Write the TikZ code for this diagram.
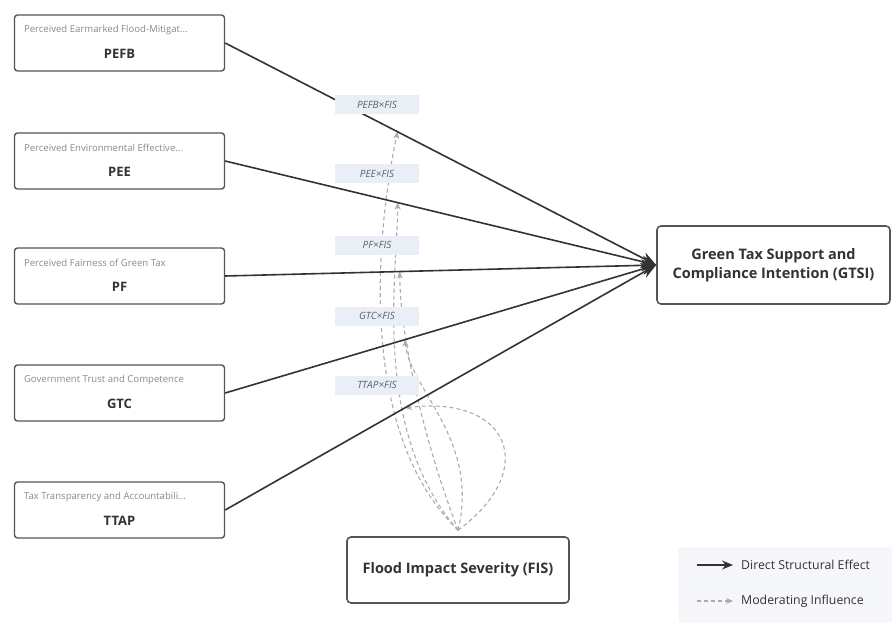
\documentclass[tikz,border=0pt]{standalone}
\usepackage{fontspec}
\setmainfont{Open Sans}
\usetikzlibrary{arrows.meta,calc}
\definecolor{edgec}{HTML}{333333}
\definecolor{boxc}{HTML}{555555}
\definecolor{subc}{HTML}{8A8A8A}
\definecolor{dashc}{HTML}{ABABAB}
\definecolor{labfill}{HTML}{EAEFF5}
\definecolor{labtext}{HTML}{5A6270}
\definecolor{legfill}{HTML}{F5F7FA}
\tikzset{
  srcbox/.style={draw=boxc,line width=1.4pt,rounded corners=3pt,fill=white,minimum width=210pt,minimum height=56pt,inner sep=0pt},
  bigbox/.style={draw=boxc,line width=1.6pt,rounded corners=4pt,fill=white,inner sep=0pt,align=center,font=\bfseries\fontsize{14.5}{19}\selectfont,text=edgec},
  subtxt/.style={anchor=west,font=\fontsize{9.6}{11}\selectfont,text=subc,inner sep=0pt},
  abbr/.style={font=\bfseries\fontsize{13}{15}\selectfont,text=edgec,inner sep=0pt},
  direct/.style={draw=edgec,line width=1.6pt,-{Stealth[length=15pt,width=12pt]}},
  moder/.style={draw=dashc,line width=1.1pt,dash pattern=on 4pt off 3pt,-{Stealth[length=7pt,width=6pt]}},
  intlab/.style={fill=labfill,minimum width=84pt,minimum height=19pt,inner sep=0pt,font=\itshape\fontsize{10}{12}\selectfont,text=labtext},
  legtxt/.style={anchor=west,font=\fontsize{12.3}{14}\selectfont,text=edgec,inner sep=0pt}
}
\begin{document}
\begin{tikzpicture}[x=1pt,y=-1pt]
\useasboundingbox (0,0) rectangle (892,623);
\fill[white] (0,0) rectangle (892,623);

% source boxes
\node[srcbox] (pefb) at (119.5,43) {};
\node[srcbox] (pee)  at (119.5,161) {};
\node[srcbox] (pf)   at (119.5,276) {};
\node[srcbox] (gtc)  at (119.5,393) {};
\node[srcbox] (ttap) at (119.5,510) {};

\node[subtxt] (pefbs) at ($(pefb.north west)+(10,16)$) {Perceived Earmarked Flood-Mitigat...};
\node[abbr]   (pefbl) at ($(pefb.north)+(0,40)$) {PEFB};
\node[subtxt] (pees)  at ($(pee.north west)+(10,16)$) {Perceived Environmental Effective...};
\node[abbr]   (peel)  at ($(pee.north)+(0,40)$) {PEE};
\node[subtxt] (pfs)   at ($(pf.north west)+(10,16)$) {Perceived Fairness of Green Tax};
\node[abbr]   (pfl)   at ($(pf.north)+(0,40)$) {PF};
\node[subtxt] (gtcs)  at ($(gtc.north west)+(10,16)$) {Government Trust and Competence};
\node[abbr]   (gtcl)  at ($(gtc.north)+(0,40)$) {GTC};
\node[subtxt] (ttaps) at ($(ttap.north west)+(10,16)$) {Tax Transparency and Accountabili...};
\node[abbr]   (ttapl) at ($(ttap.north)+(0,40)$) {TTAP};

% target and moderator
\node[bigbox,minimum width=233pt,minimum height=78pt] (gtsi) at (773.5,265) {Green Tax Support and\\Compliance Intention (GTSI)};
\node[bigbox,minimum width=222pt,minimum height=66pt] (fis) at (458,570) {Flood Impact Severity (FIS)};

% points on direct paths where moderation lands
\path (pefb.east) -- (gtsi.west) coordinate[pos=0.40] (m1);
\path (pee.east)  -- (gtsi.west) coordinate[pos=0.40] (m2);
\path (pf.east)   -- (gtsi.west) coordinate[pos=0.405] (m3);
\path (gtc.east)  -- (gtsi.west) coordinate[pos=0.417] (m4);
\path (ttap.east) -- (gtsi.west) coordinate[pos=0.417] (m5);
\coordinate (fist) at ($(fis.north)+(0,-6)$);

% moderating curves
\draw[moder] (fist) .. controls (345,420) and (385,190) .. (m1);
\draw[moder] (fist) .. controls (370,430) and (398,270) .. (m2);
\draw[moder] (fist) .. controls (420,430) and (400,330) .. (m3);
\draw[moder] (fist) .. controls (480,440) and (410,390) .. (m4);
\draw[moder] (fist) .. controls (540,470) and (510,395) .. (m5);

% direct effects
\draw[direct] (pefb.east) -- (gtsi.west);
\draw[direct] (pee.east)  -- (gtsi.west);
\draw[direct] (pf.east)   -- (gtsi.west);
\draw[direct] (gtc.east)  -- (gtsi.west);
\draw[direct] (ttap.east) -- (gtsi.west);

% interaction labels
\node[intlab] (i1) at (377,105) {PEFB×FIS};
\node[intlab] (i2) at (377,174) {PEE×FIS};
\node[intlab] (i3) at (377,245) {PF×FIS};
\node[intlab] (i4) at (377,316) {GTC×FIS};
\node[intlab] (i5) at (377,385) {TTAP×FIS};

% legend
\path[fill=legfill,draw=legfill!60!gray!30,rounded corners=3pt] (679,548) rectangle (898,622);
\coordinate (l1a) at (697,565);
\coordinate (l1b) at (733,565);
\coordinate (l2a) at (697,601);
\coordinate (l2b) at (733,601);
\draw[draw=edgec,line width=1.4pt,-{Stealth[length=11pt,width=9pt]}] (l1a) -- (l1b);
\draw[moder] (l2a) -- (l2b);
\node[legtxt] (lt1) at (741,565) {Direct Structural Effect};
\node[legtxt] (lt2) at (741,601) {Moderating Influence};
\end{tikzpicture}
\end{document}
